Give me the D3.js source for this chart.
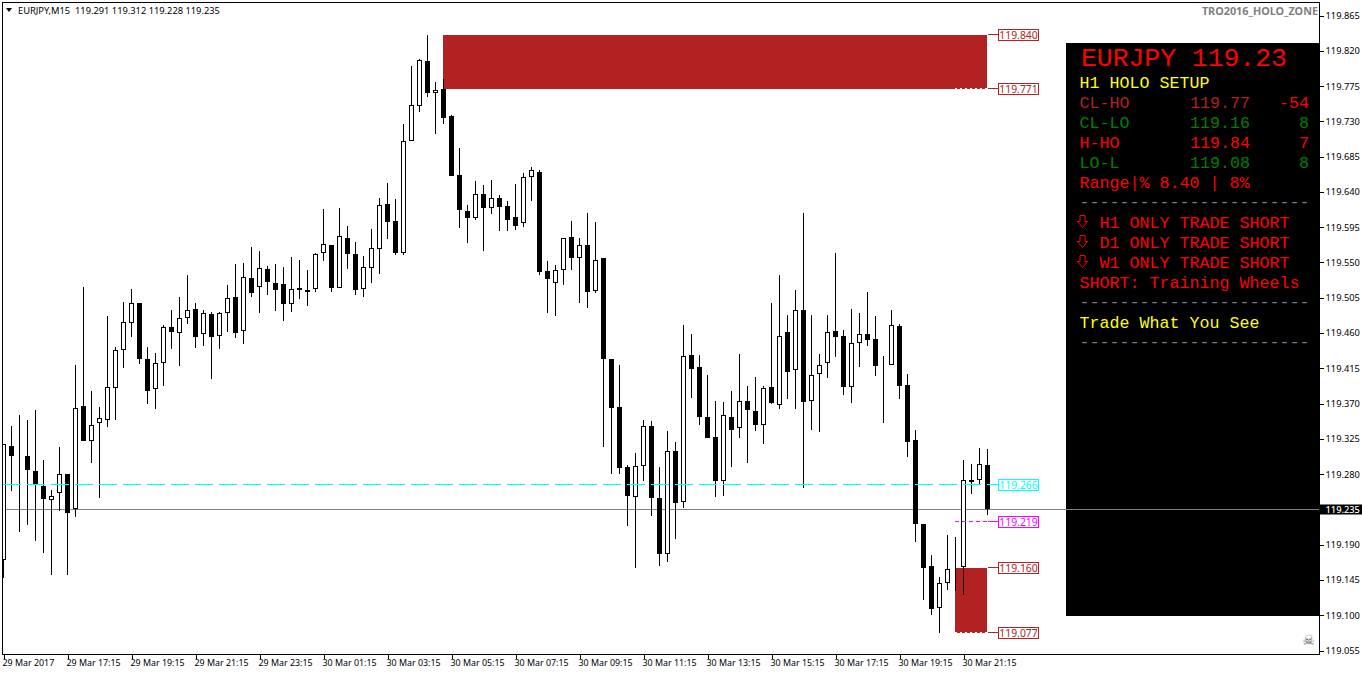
<!DOCTYPE html>
<html><head><meta charset="utf-8">
<style>html,body{margin:0;padding:0;background:#fff;overflow:hidden}svg{display:block}
text{font-family:"Noto Sans",sans-serif}</style>
<script src="https://cdn.jsdelivr.net/npm/d3@7"></script></head><body><svg id="c" width="1362" height="675"></svg>
<script>
const opens=[119.170,119.316,119.304,119.303,119.284,119.265,119.247,119.256,119.280,119.236,119.367,119.322,119.345,119.349,119.390,119.438,119.473,119.498,119.427,119.389,119.422,119.468,119.460,119.479,119.491,119.459,119.484,119.456,119.486,119.506,119.463,119.530,119.519,119.542,119.524,119.523,119.497,119.517,119.515,119.516,119.562,119.572,119.517,119.581,119.561,119.516,119.543,119.567,119.625,119.603,119.562,119.705,119.750,119.807,119.766,119.771,119.737,119.662,119.616,119.607,119.637,119.620,119.632,119.622,119.608,119.600,119.659,119.665,119.539,119.524,119.540,119.583,119.556,119.572,119.514,119.556,119.427,119.366,119.289,119.251,119.290,119.341,119.250,119.178,119.310,119.244,119.432,119.417,119.353,119.327,119.271,119.353,119.339,119.373,119.361,119.343,119.391,119.368,119.461,119.413,119.489,119.373,119.408,119.422,119.463,119.456,119.391,119.447,119.459,119.452,119.420,119.419,119.469,119.394,119.324,119.216,119.163,119.109,119.141,119.161,119.161,119.270,119.272,119.291];
const highs=[119.319,119.341,119.355,119.349,119.362,119.298,119.260,119.315,119.280,119.419,119.519,119.386,119.366,119.482,119.442,119.500,119.516,119.498,119.442,119.435,119.470,119.489,119.506,119.534,119.498,119.489,119.487,119.487,119.521,119.548,119.549,119.570,119.565,119.546,119.548,119.544,119.557,119.553,119.540,119.562,119.618,119.572,119.620,119.597,119.576,119.558,119.593,119.632,119.651,119.631,119.727,119.800,119.810,119.840,119.780,119.784,119.738,119.696,119.623,119.654,119.649,119.655,119.636,119.628,119.650,119.664,119.672,119.668,119.552,119.547,119.581,119.603,119.581,119.613,119.602,119.556,119.427,119.419,119.292,119.307,119.349,119.348,119.289,119.335,119.321,119.470,119.459,119.432,119.406,119.373,119.372,119.386,119.433,119.392,119.404,119.392,119.498,119.534,119.483,119.515,119.613,119.483,119.433,119.483,119.562,119.464,119.491,119.486,119.512,119.482,119.431,119.489,119.472,119.408,119.336,119.216,119.177,119.149,119.202,119.200,119.298,119.293,119.313,119.312];
const lows=[119.147,119.258,119.206,119.215,119.195,119.179,119.151,119.233,119.151,119.225,119.322,119.294,119.250,119.340,119.349,119.415,119.455,119.420,119.369,119.363,119.392,119.440,119.418,119.472,119.441,119.443,119.401,119.440,119.461,119.454,119.446,119.506,119.486,119.509,119.488,119.475,119.487,119.503,119.494,119.512,119.552,119.512,119.517,119.542,119.509,119.506,119.524,119.535,119.580,119.560,119.560,119.705,119.742,119.761,119.714,119.727,119.660,119.594,119.575,119.604,119.565,119.612,119.590,119.590,119.592,119.595,119.628,119.534,119.486,119.482,119.521,119.540,119.498,119.492,119.511,119.315,119.280,119.280,119.214,119.160,119.271,119.227,119.163,119.168,119.197,119.237,119.377,119.343,119.326,119.251,119.252,119.289,119.326,119.294,119.335,119.319,119.369,119.363,119.376,119.363,119.262,119.336,119.334,119.403,119.429,119.381,119.371,119.417,119.443,119.405,119.345,119.419,119.376,119.302,119.193,119.119,119.100,119.077,119.132,119.131,119.126,119.255,119.267,119.228];
const closes=[119.319,119.303,119.304,119.285,119.267,119.248,119.252,119.280,119.230,119.364,119.322,119.343,119.352,119.391,119.438,119.474,119.498,119.427,119.386,119.422,119.468,119.461,119.479,119.489,119.455,119.486,119.455,119.486,119.505,119.460,119.531,119.511,119.543,119.525,119.515,119.497,119.516,119.515,119.512,119.561,119.574,119.517,119.584,119.561,119.515,119.544,119.569,119.623,119.602,119.562,119.705,119.751,119.808,119.766,119.770,119.734,119.660,119.617,119.607,119.637,119.620,119.632,119.621,119.604,119.597,119.659,119.668,119.538,119.529,119.540,119.581,119.556,119.572,119.512,119.553,119.427,119.364,119.288,119.252,119.290,119.341,119.250,119.178,119.310,119.243,119.431,119.414,119.353,119.326,119.271,119.355,119.336,119.373,119.362,119.343,119.390,119.371,119.456,119.410,119.489,119.372,119.406,119.419,119.461,119.455,119.391,119.447,119.459,119.451,119.418,119.419,119.470,119.392,119.321,119.216,119.160,119.108,119.141,119.159,119.161,119.272,119.272,119.293,119.235];

const priceTicks=[119.865,119.820,119.775,119.730,119.685,119.640,119.595,119.550,119.505,119.460,119.415,119.370,119.325,119.280,119.235,119.190,119.145,119.100,119.055];
const timeTicks=["29 Mar 2017","29 Mar 17:15","29 Mar 19:15","29 Mar 21:15","29 Mar 23:15","30 Mar 01:15","30 Mar 03:15","30 Mar 05:15","30 Mar 07:15","30 Mar 09:15","30 Mar 11:15","30 Mar 13:15","30 Mar 15:15","30 Mar 17:15","30 Mar 19:15","30 Mar 21:15"];
const bid=119.235, cyanLevel=119.266, magentaLevel=119.219;
const highZone=[119.840,119.771], lowZone=[119.160,119.077];
const headerText="EURJPY,M15  119.291 119.312 119.228 119.235";
const panelLines=[
 ["H1 HOLO SETUP",0,"#ffff00"],
 ["CL-HO",1,"#b22222"],["CL-LO",2,"#008000"],["H-HO",3,"#ff0000"],["LO-L",4,"#008000"],
 ["Range|% 8.40 | 8%",5,"#ff0000"],
 ["-----------------------",6,"#708090"],
 ["SHORT: Training Wheels",10,"#ff0000"],
 ["-----------------------",11,"#708090"],
 ["Trade What You See",12,"#ffff00"],
 ["-----------------------",13,"#708090"]];
const panelCols=[["119.77",1,"#b22222","-54","#ff0000"],["119.16",2,"#008000","8","#008000"],["119.84",3,"#ff0000","7","#ff0000"],["119.08",4,"#008000","8","#008000"]];
const panelTrend=[["H1 ONLY TRADE SHORT",7],["D1 ONLY TRADE SHORT",8],["W1 ONLY TRADE SHORT",9]];

const svg=d3.select("#c");
const y=d3.scaleLinear().domain([119.055,119.865]).range([650.5,15.5]);
const x=d3.scaleLinear().domain([0,opens.length-1]).range([3.5,987.5]);
const Y=v=>Math.round(y(v));
const FIRE="#b22222", L=2.5,T=2.5,R=1319.5,B=654.5;

svg.append("defs").append("clipPath").attr("id","plot").append("rect").attr("x",3).attr("y",3).attr("width",1316).attr("height",651);

// panel
const panel=svg.append("g");
panel.append("rect").attr("x",1066).attr("y",43).attr("width",253.5).attr("height",573).attr("fill","#000");

// frame
svg.append("rect").attr("x",L).attr("y",T).attr("width",R-L).attr("height",B-T).attr("fill","none").attr("stroke","#000").attr("shape-rendering","crispEdges");

const mono='"Liberation Mono",monospace';
panel.append("text").attr("x",1081).attr("y",66).attr("fill","#ff0000").style("font-family",mono).style("font-size","26.4px").text("EURJPY 119.23");
const rowY=r=>88+20*r;
panel.selectAll("text.l").data(panelLines).join("text").attr("class","l").attr("x",1079.5).attr("y",d=>rowY(d[1])-(d[0][0]==="-"?1:0)).attr("fill",d=>d[2]).style("font-family",mono).style("font-size","16.67px").text(d=>d[0]);
panel.selectAll("text.v").data(panelCols).join("text").attr("class","v").attr("x",1190).attr("y",d=>rowY(d[1])).attr("fill",d=>d[2]).style("font-family",mono).style("font-size","16.67px").text(d=>d[0]);
panel.selectAll("text.w").data(panelCols).join("text").attr("class","w").attr("x",1309).attr("y",d=>rowY(d[1])).attr("text-anchor","end").attr("fill",d=>d[4]).style("font-family",mono).style("font-size","16.67px").text(d=>d[3]);
panel.selectAll("text.t").data(panelTrend).join("text").attr("class","t").attr("x",1099.5).attr("y",d=>rowY(d[1])).attr("fill","#ff0000").style("font-family",mono).style("font-size","16.67px").text(d=>d[0]);
// outlined down-arrow glyphs beside the trend rows
const arrow=d3.line()([[1080,-12],[1085,-12],[1085,-6],[1087.5,-6],[1082.5,0],[1077.5,-6],[1080,-6]])+"Z";
panel.selectAll("path.a").data(panelTrend).join("path").attr("class","a").attr("d",arrow).attr("transform",d=>`translate(0,${rowY(d[1])-0.5})`).attr("fill","none").attr("stroke","#ff0000");

// zones
const plot=svg.append("g").attr("clip-path","url(#plot)");
const zoneX=[x(55)-.5,x(123)-.5], lowX=[x(119)-.5,x(123)-.5];
plot.append("rect").attr("x",zoneX[0]).attr("y",Y(highZone[0])).attr("width",zoneX[1]-zoneX[0]).attr("height",Y(highZone[1])-Y(highZone[0])).attr("fill",FIRE);
plot.append("rect").attr("x",lowX[0]).attr("y",Y(lowZone[0])).attr("width",lowX[1]-lowX[0]).attr("height",Y(lowZone[1])-Y(lowZone[0])).attr("fill",FIRE);
[highZone[1],lowZone[1]].forEach(d=>{
 plot.append("line").attr("x1",lowX[0]).attr("x2",lowX[1]).attr("y1",Y(d)-.5).attr("y2",Y(d)-.5).attr("stroke","#fff").attr("stroke-dasharray","2,3").attr("shape-rendering","crispEdges");
});

// bid line
plot.append("line").attr("x1",3).attr("x2",1319).attr("y1",Y(bid)+.5).attr("y2",Y(bid)+.5).attr("stroke","#808080").attr("shape-rendering","crispEdges");

// candles
const idx=d3.range(opens.length);
plot.selectAll("line.w").data(idx).join("line").attr("class","w")
 .attr("x1",i=>x(i)).attr("x2",i=>x(i)).attr("y1",i=>Y(highs[i])).attr("y2",i=>Y(lows[i])).attr("stroke","#000").attr("shape-rendering","crispEdges");
plot.selectAll("rect.b").data(idx).join("rect").attr("class","b")
 .attr("x",i=>x(i)-2).attr("width",4)
 .attr("y",i=>Y(Math.max(opens[i],closes[i]))+.5)
 .attr("height",i=>Math.max(0,Y(Math.min(opens[i],closes[i]))-Y(Math.max(opens[i],closes[i]))-1))
 .attr("fill",i=>closes[i]>opens[i]?"#fff":"#000").attr("stroke","#000").attr("shape-rendering","crispEdges");

// cyan line (on top of candles)
plot.append("line").attr("x1",3).attr("x2",x(123)).attr("y1",Y(cyanLevel)-.5).attr("y2",Y(cyanLevel)-.5).attr("stroke","#00ffff").attr("stroke-dasharray","18,6").attr("shape-rendering","crispEdges");
// magenta
plot.append("line").attr("x1",lowX[0]).attr("x2",x(123)).attr("y1",Y(magentaLevel)-.5).attr("y2",Y(magentaLevel)-.5).attr("stroke","#ff00ff").attr("stroke-dasharray","4,3").attr("shape-rendering","crispEdges");

// level labels
const levels=[[highZone[0],FIRE],[highZone[1],FIRE],[cyanLevel,"#00ffff"],[magentaLevel,"#ff00ff"],[lowZone[0],FIRE],[lowZone[1],FIRE]];
const lg=svg.selectAll("g.lv").data(levels).join("g").attr("class","lv");
lg.append("line").attr("x1",988).attr("x2",998).attr("y1",d=>Y(d[0])-.5).attr("y2",d=>Y(d[0])-.5).attr("stroke",d=>d[1]).attr("shape-rendering","crispEdges");
lg.append("rect").attr("x",998.5).attr("width",40).attr("y",d=>Y(d[0])-5.5).attr("height",11).attr("fill","#fff").attr("stroke",d=>d[1]).attr("shape-rendering","crispEdges");
lg.append("text").attr("x",1018.5).attr("y",d=>Y(d[0])+4).attr("text-anchor","middle").attr("fill",d=>d[1]).style("font-size","10.4px").text(d=>d[0].toFixed(3));

// axes
const ay=d3.axisRight(y).tickValues(priceTicks).tickSize(4).tickPadding(2).tickFormat(d3.format(".3f"));
const gy=svg.append("g").attr("transform",`translate(${R},0)`).call(ay);
const ax=d3.axisBottom(x).tickValues(timeTicks.map((d,i)=>i*8)).tickSize(4).tickPadding(1).tickFormat((d,i)=>timeTicks[i]);
const gx=svg.append("g").attr("transform",`translate(0,${B})`).call(ax);
[gy,gx].forEach(g=>{g.select(".domain").remove();g.selectAll("line").attr("stroke","#000").attr("shape-rendering","crispEdges");
 g.selectAll("text").attr("fill","#000").style("font-family",'"Noto Sans",sans-serif').style("font-size","9.3px");});
gx.selectAll("text").attr("text-anchor","start").attr("dx",-1.5).style("font-size","8.9px");

// bid tag
svg.append("rect").attr("x",1320).attr("y",Y(bid)-4.5).attr("width",42).attr("height",10).attr("fill","#000");
svg.append("text").attr("x",1325.5).attr("y",Y(bid)+3.5).attr("fill","#fff").style("font-size","9.3px").style("font-weight","500").text(bid.toFixed(3));

// header + watermark
svg.append("path").attr("d",d3.line()([[6,8],[12,8],[9,12]])+"Z").attr("fill","#000");
svg.append("text").attr("x",18).attr("y",13.5).attr("fill","#000").style("white-space","pre").style("font-size","9.3px").text(headerText);
svg.append("text").attr("x",1318).attr("y",15).attr("text-anchor","end").attr("fill","#808080").style("font-size","10.8px").style("font-weight","700").text("TRO2016_HOLO_ZONE");
svg.append("text").attr("x",1308.5).attr("y",645).attr("text-anchor","middle").attr("fill","#555").style("font-family",'"DejaVu Sans"').style("font-size","14px").text("\u2620");
</script></body></html>
